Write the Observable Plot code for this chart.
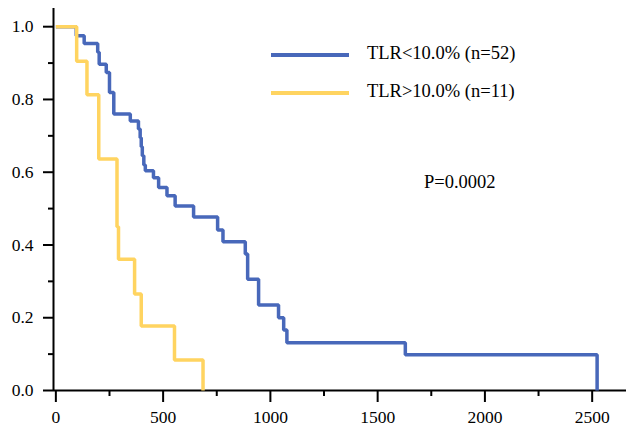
<!DOCTYPE html>
<html><head><meta charset="utf-8">
<script src="https://cdn.jsdelivr.net/npm/d3@7"></script>
<script src="https://cdn.jsdelivr.net/npm/@observablehq/plot@0.6"></script>
<style>
body{margin:0;background:#fff;}
#chart{position:relative;width:628px;height:427px;font-family:"Liberation Serif","Times New Roman",serif;color:#000;}
#chart svg{display:block;}
.lg-line{position:absolute;height:4px;width:78px;left:271px;}
.lg-text{position:absolute;left:367px;font-size:18.5px;line-height:1;white-space:nowrap;}
</style></head><body><div id="chart"></div>
<script>
// Group TLR<10.0% (n=52)
const blueTimes = [0, 95, 132, 195, 202, 235, 250, 270, 347, 385, 393, 398, 403, 410, 417, 455, 479, 518, 556, 642, 754, 779, 883, 894, 945, 1038, 1062, 1077, 1629, 2523];
const blueSurv  = [1, 0.975, 0.954, 0.93, 0.897, 0.874, 0.819, 0.760, 0.741, 0.719, 0.695, 0.67, 0.645, 0.62, 0.604, 0.585, 0.558, 0.535, 0.507, 0.477, 0.441, 0.409, 0.375, 0.306, 0.235, 0.200, 0.166, 0.131, 0.098, 0];
// Group TLR>10.0% (n=11)
const yellowTimes = [0, 97, 145, 200, 285, 292, 367, 398, 553, 686];
const yellowSurv  = [1, 0.905, 0.813, 0.636, 0.45, 0.361, 0.265, 0.177, 0.084, 0];

const seriesLabels = ["TLR<10.0% (n=52)", "TLR>10.0% (n=11)"];
const seriesColors = ["#4868BA", "#FFD460"];
const pText = "P=0.0002";

const xMajor = [0, 500, 1000, 1500, 2000, 2500];
const xMinor = [250, 750, 1250, 1750, 2250];
const yMajor = [0, 0.2, 0.4, 0.6, 0.8, 1.0];
const yMinor = [0.1, 0.3, 0.5, 0.7, 0.9];
const xDomain = [-11, 2660];
const yDomain = [0, 1.05];

const blue = blueTimes.map((t, i) => ({t, s: blueSurv[i]}));
const yellow = yellowTimes.map((t, i) => ({t, s: yellowSurv[i]}));

const plot = Plot.plot({
  width: 628, height: 427,
  marginLeft: 53, marginRight: 2, marginTop: 8, marginBottom: 37,
  x: {domain: xDomain, label: null},
  y: {domain: yDomain, label: null},
  style: {fontFamily: '"Liberation Serif","Times New Roman",serif', fontSize: "17.5px", color: "#000", background: "#fff", overflow: "visible"},
  marks: [
    Plot.ruleY([yDomain[0]], {stroke: "#000", strokeWidth: 2}),
    Plot.ruleX([xDomain[0]], {stroke: "#000", strokeWidth: 2}),
    Plot.axisY(yMajor, {tickSize: 10, tickPadding: 10, strokeWidth: 2, stroke: "#000", fill: "#000", tickFormat: d3.format(".1f"), label: null}),
    Plot.axisY(yMinor, {tickSize: 5, strokeWidth: 2, stroke: "#000", tickFormat: () => "", label: null}),
    Plot.axisX(xMajor, {tickSize: 12, tickPadding: 8, strokeWidth: 2, stroke: "#000", fill: "#000", tickFormat: d3.format("d"), label: null}),
    Plot.axisX(xMinor, {tickSize: 6, strokeWidth: 2, stroke: "#000", tickFormat: () => "", label: null}),
    Plot.line(blue, {x: "t", y: "s", curve: "step-after", stroke: seriesColors[0], strokeWidth: 3.5, strokeLinejoin: "miter", strokeLinecap: "butt"}),
    Plot.line(yellow, {x: "t", y: "s", curve: "step-after", stroke: seriesColors[1], strokeWidth: 3.5, strokeLinejoin: "miter", strokeLinecap: "butt"})
  ]
});
const chart = document.getElementById("chart");
chart.appendChild(plot);

const tops = [53, 91];
const textTops = [44, 82];
seriesLabels.forEach((lab, i) => {
  const l = document.createElement("div");
  l.className = "lg-line"; l.style.top = tops[i] + "px"; l.style.background = seriesColors[i];
  chart.appendChild(l);
  const t = document.createElement("div");
  t.className = "lg-text"; t.style.top = textTops[i] + "px"; t.textContent = lab;
  chart.appendChild(t);
});
const p = document.createElement("div");
p.className = "lg-text"; p.style.left = "424px"; p.style.top = "173px"; p.textContent = pText;
chart.appendChild(p);
</script>
</body></html>
